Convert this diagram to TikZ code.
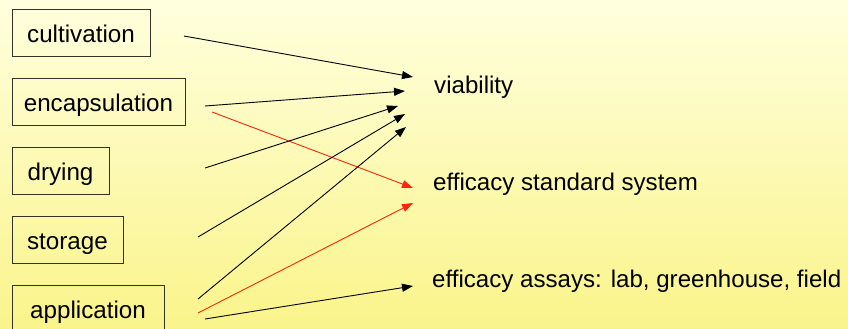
\documentclass[tikz,border=0pt]{standalone}
\usepackage{fontspec}
\setmainfont{Liberation Sans}
\usetikzlibrary{arrows.meta}
\definecolor{bgtop}{RGB}{255,255,222}
\definecolor{bgbot}{RGB}{250,244,138}
\definecolor{boxline}{RGB}{50,50,40}
\definecolor{redarrow}{RGB}{250,40,10}
\tikzset{
  stagebox/.style={draw=boxline, line width=0.9pt, rectangle, inner sep=0pt,
    minimum height=47pt, text height=19pt, text depth=0pt,
    font=\fontsize{24.2}{28}\selectfont},
  target/.style={anchor=base west, inner sep=0pt, font=\fontsize{24.1}{28}\selectfont},
  conn/.style={line width=0.9pt, -{Triangle[length=11pt,width=8pt]}},
  blackconn/.style={conn, black},
  redconn/.style={conn, redarrow},
}
\begin{document}
\begin{tikzpicture}[x=1pt,y=-1pt]
\shade[top color=bgtop, bottom color=bgbot] (0,0) rectangle (848,329);
\useasboundingbox (0,0) rectangle (848,329);

\node[stagebox, minimum width=138pt] (cult) at (81,32.5) {cultivation};
\node[stagebox, minimum width=173pt] (enc) at (98.5,101.5) {encapsulation};
\node[stagebox, minimum width=97pt] (dry) at (60.5,170.5) {drying};
\node[stagebox, minimum width=111pt] (stor) at (67.5,239.5) {storage};
\node[stagebox, minimum width=152pt] (app) at (88,308.5) {application};

\node[target] (via) at (434,93) {viability};
\node[target] (eff) at (433,190) {efficacy standard system};
\node[target] (ass) at (432,287) {efficacy assays: lab, greenhouse, field};

% start points
\coordinate (s1) at (184,36);
\coordinate (s2) at (205,106);
\coordinate (s2r) at (212,112);
\coordinate (s3) at (205,168);
\coordinate (s4) at (198,237);
\coordinate (s5) at (198,299);
\coordinate (s5r) at (198,313);
\coordinate (s5b) at (205,319);
% end points
\coordinate (e1) at (413,77);
\coordinate (e2) at (405,91);
\coordinate (e2r) at (413,188);
\coordinate (e3) at (398,106);
\coordinate (e4) at (405,114);
\coordinate (e5) at (406,127);
\coordinate (e5r) at (413,203);
\coordinate (e5b) at (413,286);

\draw[blackconn] (s1) -- (e1);
\draw[blackconn] (s2) -- (e2);
\draw[redconn] (s2r) -- (e2r);
\draw[blackconn] (s3) -- (e3);
\draw[blackconn] (s4) -- (e4);
\draw[blackconn] (s5) -- (e5);
\draw[redconn] (s5r) -- (e5r);
\draw[blackconn] (s5b) -- (e5b);
\end{tikzpicture}
\end{document}
